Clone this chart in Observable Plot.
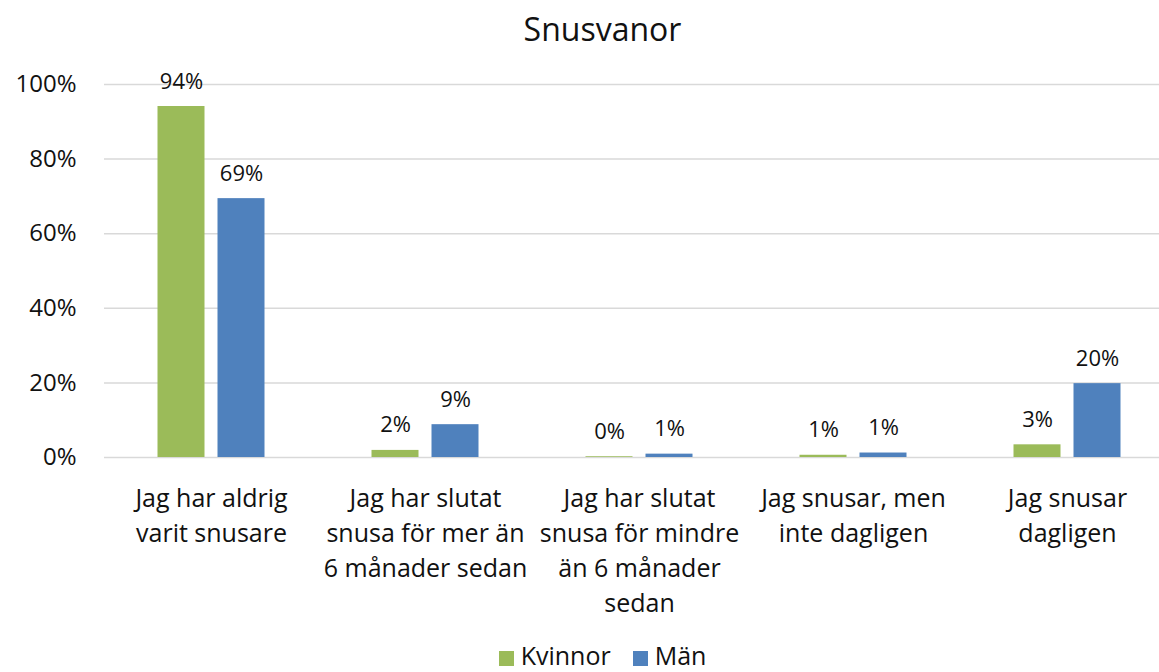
<!DOCTYPE html>
<html>
<head>
<meta charset="utf-8">
<script src="https://cdn.jsdelivr.net/npm/d3@7"></script>
<script src="https://cdn.jsdelivr.net/npm/@observablehq/plot@0.6"></script>
<style>
  body { margin: 0; background: #fff; font-family: "Open Sans", sans-serif; color: #111; }
  #wrap { width: 1159px; height: 672px; position: relative; overflow: hidden; }
  #title { height: 58px; line-height: 58px; font-size: 32px; text-align: center; padding-left: 46px; box-sizing: border-box; }
  #legend { height: 30px; line-height: 30px; font-size: 25px; text-align: center; padding-left: 46px; box-sizing: border-box; }
  #legend span.sw { display: inline-block; width: 15px; height: 15px; margin-right: 7px; vertical-align: -1px; }
  #legend span.item { margin: 0 11px; }
</style>
</head>
<body>
<div id="wrap">
  <div id="title">Snusvanor</div>
  <div id="chart"></div>
  <div id="legend"></div>
</div>
<script>
const categories = [
  "Jag har aldrig\nvarit snusare",
  "Jag har slutat\nsnusa för mer än\n6 månader sedan",
  "Jag har slutat\nsnusa för mindre\nän 6 månader\nsedan",
  "Jag snusar, men\ninte dagligen",
  "Jag snusar\ndagligen"
];
const series = ["Kvinnor", "Män"];
const kvinnor = [0.941, 0.019, 0.002, 0.006, 0.034];
const man = [0.694, 0.088, 0.009, 0.012, 0.198];
const colors = ["#9BBB59", "#4F81BD"];
const yTicks = [0, 0.2, 0.4, 0.6, 0.8, 1.0];

const data = [];
categories.forEach((c, i) => {
  data.push({cat: c, sex: series[0], value: kvinnor[i]});
  data.push({cat: c, sex: series[1], value: man[i]});
});
const fmt = d3.format(".0%");

const chart = Plot.plot({
  width: 1159,
  height: 582,
  marginTop: 26,
  marginBottom: 183,
  marginLeft: 103.5,
  marginRight: -14.5,
  style: {fontFamily: "Open Sans, sans-serif", fontSize: "24px", color: "#111", background: "#fff"},
  fx: {domain: categories, padding: 0, label: null, axis: null},
  x: {domain: series, paddingInner: 0.213, paddingOuter: 0.861, axis: null},
  y: {domain: [0, 1], label: null},
  color: {domain: series, range: colors},
  marks: [
    Plot.ruleY(yTicks, {stroke: "#d9d9d9", strokeWidth: 1.5}),
    Plot.barY(data, {fx: "cat", x: "sex", y: "value", fill: "sex"}),
    Plot.text(data, {fx: "cat", x: "sex", y: "value", text: d => fmt(d.value), dy: -25, lineAnchor: "middle", fontSize: 22, fill: "#111"}),
    Plot.axisY({ticks: yTicks, tickFormat: d3.format(".0%"), tickSize: 0, tickPadding: 28, label: null, fontSize: 24}),
    Plot.axisFx({anchor: "bottom", tickSize: 0, tickPadding: 25, label: null, lineHeight: 1.4, fontSize: 25})
  ]
});
document.getElementById("chart").appendChild(chart);

const legend = document.getElementById("legend");
series.forEach((s, i) => {
  const item = document.createElement("span");
  item.className = "item";
  const sw = document.createElement("span");
  sw.className = "sw";
  sw.style.background = colors[i];
  item.appendChild(sw);
  item.appendChild(document.createTextNode(s));
  legend.appendChild(item);
});
</script>
</body>
</html>
